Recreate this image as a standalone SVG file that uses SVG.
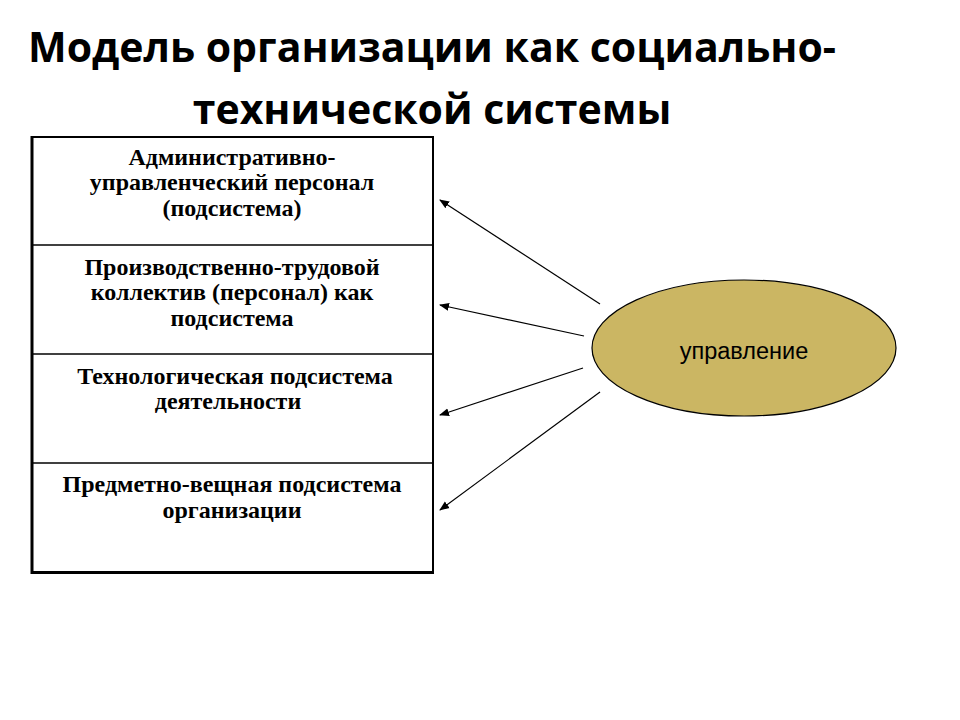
<svg xmlns="http://www.w3.org/2000/svg" width="960" height="720" viewBox="0 0 960 720">
<style>
.title{font-family:"Open Sans","Liberation Sans",sans-serif;font-weight:bold;font-size:41px;fill:#000;text-anchor:middle}
.bt{font-family:"Liberation Serif","Times New Roman",serif;font-weight:bold;font-size:24px;fill:#000;text-anchor:middle}
.lbl{font-family:"Liberation Sans",Arial,sans-serif;font-size:23.5px;fill:#000;text-anchor:middle}
.conn{stroke:#000;stroke-width:1.2;fill:none;marker-end:url(#ah)}
</style>
<defs>
<marker id="ah" viewBox="0 0 10 10" refX="9" refY="5" markerWidth="10" markerHeight="10" markerUnits="userSpaceOnUse" orient="auto">
<path d="M0,1 L10,5 L0,9 Z" fill="#000"/>
</marker>
</defs>
<rect width="960" height="720" fill="#fff"/>
<g id="title">
<text class="title" x="432" y="62">Модель организации как социально-</text>
<text class="title" x="432" y="124">технической системы</text>
</g>
<g id="box">
<rect x="32" y="137" width="401" height="435" fill="#fff" stroke="#000" stroke-width="2"/>
<line x1="32" y1="136" x2="32" y2="574" stroke="#000" stroke-width="3"/>
<line x1="31" y1="572.5" x2="434" y2="572.5" stroke="#000" stroke-width="3"/>
<line x1="32" y1="245" x2="433" y2="245" stroke="#000" stroke-width="1.5"/>
<line x1="32" y1="354" x2="433" y2="354" stroke="#000" stroke-width="1.5"/>
<line x1="32" y1="463" x2="433" y2="463" stroke="#000" stroke-width="1.5"/>
</g>
<g id="node1">
<text class="bt" x="232" y="165">Административно-</text>
<text class="bt" x="232" y="190">управленческий персонал</text>
<text class="bt" x="232" y="216">(подсистема)</text>
</g>
<g id="node2">
<text class="bt" x="232" y="275">Производственно-трудовой</text>
<text class="bt" x="232" y="300">коллектив (персонал) как</text>
<text class="bt" x="232" y="326">подсистема</text>
</g>
<g id="node3">
<text class="bt" x="235" y="384">Технологическая подсистема</text>
<text class="bt" x="228" y="409">деятельности</text>
</g>
<g id="node4">
<text class="bt" x="232" y="492">Предметно-вещная подсистема</text>
<text class="bt" x="232" y="518">организации</text>
</g>
<g id="node5">
<ellipse cx="744" cy="348" rx="152" ry="68" fill="#CBB663" stroke="#000" stroke-width="1.2"/>
<text class="lbl" x="744" y="359">управление</text>
</g>
<g id="connectors">
<line class="conn" x1="600" y1="304" x2="440" y2="200"/>
<line class="conn" x1="584" y1="336" x2="440" y2="305"/>
<line class="conn" x1="583" y1="368" x2="440" y2="415"/>
<line class="conn" x1="600" y1="392" x2="440" y2="510"/>
</g>
</svg>
